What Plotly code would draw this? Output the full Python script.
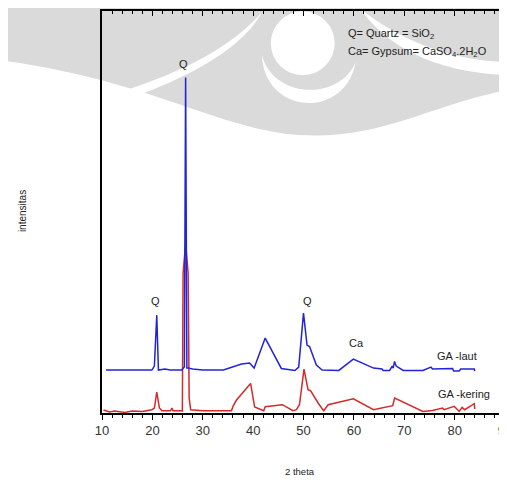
import plotly.graph_objects as go

# ---------------- data (2 theta vs intensity, arbitrary units) ----------------
two_theta_laut = [10.8, 19.9, 20.4, 20.87, 21.2, 22.5, 23.5, 25.8, 26.35, 26.6, 26.85, 27.1,
                  28.0, 30.0, 34.1, 37.7, 39.3, 40.2, 42.4, 45.6, 48.3, 49.05, 50.0, 50.7,
                  51.2, 52.55, 53.7, 55.2, 57.0, 59.9, 63.9, 65.6, 65.8, 67.1, 67.6, 67.8,
                  68.06, 68.4, 69.8, 73.7, 75.3, 75.6, 79.6, 79.8, 80.9, 81.2, 83.9, 84.0]
int_laut = [43, 43, 47, 98, 43, 44, 43, 43, 46, 336, 45, 45,
            44, 43, 43, 49, 50, 45, 75, 44.6, 42.6, 46, 100, 68,
            66.6, 48, 43, 43, 42.6, 54, 45, 44, 42.6, 42.6, 47, 45,
            51.6, 47, 42.6, 42.6, 46, 44, 44.5, 42, 42, 44, 44, 42]

two_theta_kering = [10.3, 11.5, 12.5, 13.5, 14.5, 16.0, 18.0, 19.9, 20.4, 20.87, 21.4, 21.9,
                    23.6, 23.9, 24.1, 25.8, 25.95, 26.1, 26.6, 27.1, 27.3, 27.6, 30.0, 35.7,
                    36.0, 36.7, 39.5, 40.3, 42.1, 42.4, 45.8, 47.9, 48.6, 49.2, 50.1, 50.9,
                    51.4, 52.9, 54.0, 54.9, 59.9, 63.9, 67.7, 68.1, 73.7, 75.6, 77.6, 77.9,
                    79.9, 80.6, 80.9, 81.5, 82.0, 83.9, 84.0]
int_kering = [3, 1, 2, 1, 0.5, 2, 1.5, 3.3, 5, 21, 5, 2.3,
              2.3, 5, 2.3, 2.3, 2, 140, 170, 140, 15, 3.3, 2.3, 2.3,
              6.6, 13, 29.6, 6, 2.3, 6.3, 8.3, 2.3, 3.3, 8.3, 44, 23.3,
              22.3, 10, 2.3, 8.3, 14.3, 3.3, 7.3, 15, 1.6, 2.6, 5, 3.3,
              6.6, 3.3, 1.6, 5.6, 3.3, 9.3, 4]

x_ticks = [10, 20, 30, 40, 50, 60, 70, 80, 90]

peak_labels = ["Q", "Q", "Q", "Ca"]
peak_label_x = [26.2, 20.7, 50.7, 60.5]
peak_label_y = [350, 112, 112, 70]

series_names = ["GA -laut", "GA -kering"]

# ---------------- figure ----------------
W, H = 507, 480
OFF = 8  # page offset of the figure inside the browser body
L, R, T, B = 94, 9.5, 2.7, 74.7
PW, PH = W - L - R, H - T - B


def px(x):
    return (x - OFF - L) / PW


def py(y):
    return (H - B - (y - OFF)) / PH


fig = go.Figure()
fig.add_trace(go.Scatter(x=two_theta_kering, y=int_kering, mode="lines",
                         line=dict(color="#d42a2a", width=1.5), name=series_names[1]))
fig.add_trace(go.Scatter(x=two_theta_laut, y=int_laut, mode="lines",
                         line=dict(color="#2323d8", width=1.5), name=series_names[0]))
fig.add_trace(go.Scatter(x=[], y=[], xaxis="x2", showlegend=False))

font_family = "Liberation Sans, Arial, sans-serif"
txt = "#222222"

annotations = []
for t, xx, yy in zip(peak_labels, peak_label_x, peak_label_y):
    annotations.append(dict(x=xx, y=yy, xref="x", yref="y", text=t, showarrow=False,
                            xanchor="center", yanchor="middle",
                            font=dict(size=11, color=txt, family=font_family)))
annotations.append(dict(x=76.2, y=57, xref="x", yref="y", text=series_names[0], showarrow=False,
                        xanchor="left", yanchor="middle",
                        font=dict(size=11, color=txt, family=font_family)))
annotations.append(dict(x=76.4, y=19, xref="x", yref="y", text=series_names[1], showarrow=False,
                        xanchor="left", yanchor="middle",
                        font=dict(size=11, color=txt, family=font_family)))
annotations.append(dict(x=px(346.7), y=py(34), xref="paper", yref="paper",
                        text="Q= Quartz = SiO<sub>2</sub>", showarrow=False,
                        xanchor="left", yanchor="middle",
                        font=dict(size=11, color=txt, family=font_family)))
annotations.append(dict(x=px(346.7), y=py(51.5), xref="paper", yref="paper",
                        text="Ca= Gypsum= CaSO<sub>4</sub>.2H<sub>2</sub>O", showarrow=False,
                        xanchor="left", yanchor="middle",
                        font=dict(size=11, color=txt, family=font_family)))
annotations.append(dict(x=px(22), y=py(211), xref="paper", yref="paper", text="intensitas",
                        textangle=-90, showarrow=False, xanchor="center", yanchor="middle",
                        font=dict(size=10, color=txt, family=font_family)))
annotations.append(dict(x=px(300), y=py(472), xref="paper", yref="paper", text="2 theta",
                        showarrow=False, xanchor="center", yanchor="middle",
                        font=dict(size=9.5, color=txt, family=font_family)))

gray = "#dadada"
shapes = [
    # watermark: grey lens
    dict(type="path", xref="paper", yref="paper", layer="below", line=dict(width=0),
         fillcolor=gray,
         path=f"M {px(0)},{py(0)} L {px(507)},{py(0)} L {px(507)},{py(90)} "
              f"C {px(430)},{py(105)} {px(380)},{py(140)} {px(300)},{py(135)} "
              f"C {px(220)},{py(130)} {px(150)},{py(80)} {px(0)},{py(60)} Z"),
    # white swoosh left
    dict(type="path", xref="paper", yref="paper", layer="below", line=dict(width=0),
         fillcolor="white",
         path=f"M {px(60)},{py(110)} C {px(150)},{py(85)} {px(220)},{py(60)} {px(262)},{py(12)} "
              f"C {px(240)},{py(55)} {px(160)},{py(95)} {px(60)},{py(118)} Z"),
    # white swoosh right
    dict(type="path", xref="paper", yref="paper", layer="below", line=dict(width=0),
         fillcolor="white",
         path=f"M {px(360)},{py(8)} C {px(400)},{py(40)} {px(450)},{py(60)} {px(507)},{py(62)} "
              f"L {px(507)},{py(75)} C {px(440)},{py(72)} {px(390)},{py(50)} {px(360)},{py(8)} Z"),
    # white circle
    dict(type="circle", xref="paper", yref="paper", layer="below", line=dict(width=0),
         fillcolor="white", x0=px(271), x1=px(335), y0=py(11), y1=py(75)),
    # white crescent
    dict(type="path", xref="paper", yref="paper", layer="below", line=dict(width=0),
         fillcolor="white",
         path=f"M {px(262)},{py(55)} C {px(265)},{py(115)} {px(345)},{py(120)} {px(356)},{py(62)} "
              f"C {px(340)},{py(100)} {px(275)},{py(100)} {px(262)},{py(55)} Z"),
]

fig.update_layout(
    width=W, height=H,
    margin=dict(l=L, r=R, t=T, b=B, pad=0),
    paper_bgcolor="white", plot_bgcolor="rgba(0,0,0,0)",
    showlegend=False,
    annotations=annotations,
    shapes=shapes,
    xaxis=dict(range=[10, 90], tickvals=x_ticks, ticktext=[str(v) for v in x_ticks],
               ticks="outside", ticklen=5, tickwidth=1, tickcolor="black",
               minor=dict(dtick=2, tick0=10, ticks="outside", ticklen=3, tickcolor="black", tickwidth=1),
               showline=True, linecolor="black", linewidth=1.5, mirror=True,
               showgrid=False, zeroline=False,
               tickfont=dict(size=13, color="#333333", family=font_family)),
    xaxis2=dict(range=[10, 90], overlaying="x", side="top", anchor="y",
                tickvals=x_ticks, showticklabels=False,
                ticks="inside", ticklen=5, tickwidth=1, tickcolor="black",
                minor=dict(dtick=2, tick0=10, ticks="inside", ticklen=3, tickcolor="black", tickwidth=1),
                showline=False, showgrid=False, zeroline=False),
    yaxis=dict(range=[0, PH], showline=True, linecolor="black", linewidth=1.5, mirror=True,
               ticks="", showticklabels=False, showgrid=False, zeroline=False),
)

fig.write_html("out.html")
